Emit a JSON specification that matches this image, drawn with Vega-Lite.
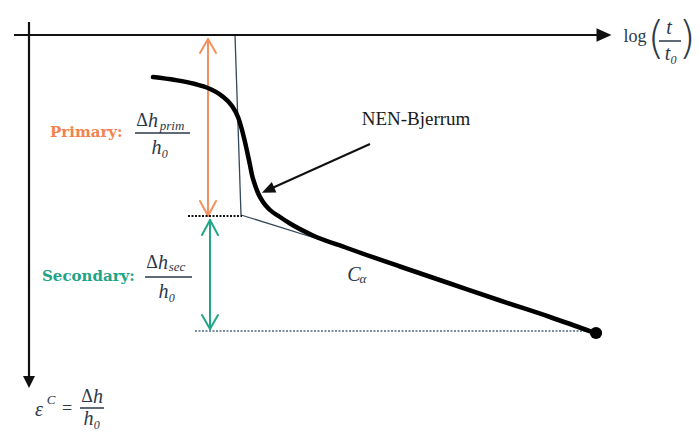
{
  "$schema": "https://vega.github.io/schema/vega-lite/v6.json",
  "width": 700,
  "height": 432,
  "padding": 0,
  "autosize": {"type": "none"},
  "background": "white",
  "config": {"view": {"stroke": null}},
  "datasets": {
    "axes": [
      {"x": 14, "y": 35, "x2": 600, "y2": 35},
      {"x": 29, "y": 22, "x2": 29, "y2": 378}
    ],
    "thin": [
      {"x": 235, "y": 35, "x2": 241, "y2": 215},
      {"x": 241, "y": 215, "x2": 318, "y2": 239}
    ],
    "orange": [
      {"x": 208, "y": 39, "x2": 208, "y2": 216},
      {"x": 208, "y": 39, "x2": 200, "y2": 53},
      {"x": 208, "y": 39, "x2": 216, "y2": 53},
      {"x": 208, "y": 216, "x2": 200, "y2": 201},
      {"x": 208, "y": 216, "x2": 216, "y2": 201}
    ],
    "green": [
      {"x": 210, "y": 220, "x2": 210, "y2": 329},
      {"x": 210, "y": 220, "x2": 202, "y2": 235},
      {"x": 210, "y": 220, "x2": 218, "y2": 235},
      {"x": 210, "y": 329, "x2": 202, "y2": 315},
      {"x": 210, "y": 329, "x2": 218, "y2": 315}
    ],
    "fracs": [
      {"x": 135, "y": 133, "x2": 190, "y2": 133},
      {"x": 145, "y": 277, "x2": 192, "y2": 277},
      {"x": 80, "y": 408, "x2": 104, "y2": 408},
      {"x": 659, "y": 41, "x2": 681, "y2": 41}
    ],
    "dotblack": [{"x": 188, "y": 216, "x2": 242, "y2": 216}],
    "dotblue": [{"x": 195, "y": 331, "x2": 590, "y2": 331}],
    "pointer": [{"x": 370, "y": 144, "x2": 270, "y2": 189}],
    "curve": [
      {"x": 153, "y": 77}, {"x": 175, "y": 80}, {"x": 195, "y": 84},
      {"x": 208, "y": 88}, {"x": 222, "y": 96}, {"x": 232, "y": 106},
      {"x": 238, "y": 117}, {"x": 242, "y": 130}, {"x": 245, "y": 142},
      {"x": 247, "y": 151}, {"x": 250, "y": 165}, {"x": 252, "y": 175},
      {"x": 255, "y": 185}, {"x": 258, "y": 193}, {"x": 263, "y": 202},
      {"x": 270, "y": 210}, {"x": 280, "y": 217}, {"x": 290, "y": 223.5},
      {"x": 313, "y": 235.5}, {"x": 347, "y": 248}, {"x": 400, "y": 266.5},
      {"x": 450, "y": 283.5}, {"x": 500, "y": 300.5}, {"x": 550, "y": 317},
      {"x": 595, "y": 333}
    ],
    "endpoint": [{"x": 596, "y": 333}],
    "headRight": [{"x": 604, "y": 35}],
    "headDown": [{"x": 29, "y": 382}],
    "headPointer": [{"x": 268, "y": 190}],
    "labelNEN": [{"x": 416, "y": 119, "label": "NEN-Bjerrum"}],
    "labelPrimary": [{"x": 50, "y": 132, "label": "Primary:"}],
    "labelSecondary": [{"x": 42, "y": 276, "label": "Secondary:"}],
    "mathItalic": [
      {"x": 153, "y": 121, "label": "h"},
      {"x": 163, "y": 263, "label": "h"},
      {"x": 98, "y": 397, "label": "h"},
      {"x": 160, "y": 148, "label": "h₀"},
      {"x": 167, "y": 292, "label": "h₀"},
      {"x": 92, "y": 419, "label": "h₀"},
      {"x": 39, "y": 410, "label": "ε"},
      {"x": 354, "y": 275, "label": "C"},
      {"x": 669, "y": 28, "label": "t"},
      {"x": 671, "y": 54, "label": "t₀"}
    ],
    "mathUpright": [
      {"x": 142, "y": 121, "label": "Δ"},
      {"x": 152, "y": 263, "label": "Δ"},
      {"x": 87, "y": 397, "label": "Δ"},
      {"x": 67, "y": 409, "label": "="},
      {"x": 635, "y": 37, "label": "log"}
    ],
    "mathSmall": [
      {"x": 172, "y": 126, "label": "prim"},
      {"x": 177, "y": 267, "label": "sec"},
      {"x": 51, "y": 400, "label": "C"},
      {"x": 363, "y": 279, "label": "α"}
    ],
    "parens": [
      {"x": 656, "y": 40, "label": "("},
      {"x": 687, "y": 40, "label": ")"}
    ]
  },
  "encoding": {
    "x": {"field": "x", "type": "quantitative", "scale": {"domain": [0, 700], "nice": false, "zero": false}, "axis": null},
    "y": {"field": "y", "type": "quantitative", "scale": {"domain": [0, 432], "reverse": true, "nice": false, "zero": false}, "axis": null}
  },
  "layer": [
    {"data": {"name": "thin"}, "mark": {"type": "rule", "stroke": "#34495a", "strokeWidth": 1.3},
     "encoding": {"x2": {"field": "x2"}, "y2": {"field": "y2"}}},
    {"data": {"name": "orange"}, "mark": {"type": "rule", "stroke": "#f5915f", "strokeWidth": 2, "strokeCap": "round"},
     "encoding": {"x2": {"field": "x2"}, "y2": {"field": "y2"}}},
    {"data": {"name": "green"}, "mark": {"type": "rule", "stroke": "#23a688", "strokeWidth": 2, "strokeCap": "round"},
     "encoding": {"x2": {"field": "x2"}, "y2": {"field": "y2"}}},
    {"data": {"name": "dotblack"}, "mark": {"type": "rule", "stroke": "#111111", "strokeWidth": 2.2, "strokeDash": [2, 1.5]},
     "encoding": {"x2": {"field": "x2"}, "y2": {"field": "y2"}}},
    {"data": {"name": "dotblue"}, "mark": {"type": "rule", "stroke": "#4f6a80", "strokeWidth": 1.6, "strokeDash": [2, 1.5]},
     "encoding": {"x2": {"field": "x2"}, "y2": {"field": "y2"}}},
    {"data": {"name": "fracs"}, "mark": {"type": "rule", "stroke": "#2a3848", "strokeWidth": 1.5},
     "encoding": {"x2": {"field": "x2"}, "y2": {"field": "y2"}}},
    {"data": {"name": "axes"}, "mark": {"type": "rule", "stroke": "#111111", "strokeWidth": 2.2},
     "encoding": {"x2": {"field": "x2"}, "y2": {"field": "y2"}}},
    {"data": {"name": "pointer"}, "mark": {"type": "rule", "stroke": "#111111", "strokeWidth": 2},
     "encoding": {"x2": {"field": "x2"}, "y2": {"field": "y2"}}},
    {"data": {"name": "curve"}, "mark": {"type": "line", "stroke": "#000000", "strokeWidth": 4.5, "interpolate": "monotone", "strokeCap": "round"},
     "encoding": {"order": {"field": "x", "type": "quantitative"}}},
    {"data": {"name": "endpoint"}, "mark": {"type": "point", "shape": "circle", "filled": true, "color": "#000000", "size": 150, "opacity": 1}},
    {"data": {"name": "headRight"}, "mark": {"type": "point", "shape": "M-1,-0.9L1,0L-1,0.9Z", "filled": true, "color": "#111111", "size": 225, "opacity": 1}},
    {"data": {"name": "headDown"}, "mark": {"type": "point", "shape": "M-1,-1L1,-1L0,1Z", "filled": true, "color": "#111111", "size": 144, "opacity": 1}},
    {"data": {"name": "headPointer"}, "mark": {"type": "point", "shape": "M0,-1L0.85,1L-0.85,1Z", "angle": 246, "filled": true, "color": "#111111", "size": 180, "opacity": 1}},
    {"data": {"name": "labelNEN"}, "mark": {"type": "text", "font": "Liberation Serif", "fontSize": 19, "color": "#1a1a1a", "align": "center", "baseline": "middle"},
     "encoding": {"text": {"field": "label"}}},
    {"data": {"name": "labelPrimary"}, "mark": {"type": "text", "font": "DejaVu Serif", "fontWeight": "bold", "fontSize": 15, "color": "#f3824f", "align": "left", "baseline": "middle"},
     "encoding": {"text": {"field": "label"}}},
    {"data": {"name": "labelSecondary"}, "mark": {"type": "text", "font": "DejaVu Serif", "fontWeight": "bold", "fontSize": 15, "color": "#22a386", "align": "left", "baseline": "middle"},
     "encoding": {"text": {"field": "label"}}},
    {"data": {"name": "mathItalic"}, "mark": {"type": "text", "font": "Liberation Serif", "fontStyle": "italic", "fontSize": 20, "color": "#2a3848", "align": "center", "baseline": "middle"},
     "encoding": {"text": {"field": "label"}}},
    {"data": {"name": "mathUpright"}, "mark": {"type": "text", "font": "Liberation Serif", "fontSize": 18, "color": "#2a3848", "align": "center", "baseline": "middle"},
     "encoding": {"text": {"field": "label"}}},
    {"data": {"name": "mathSmall"}, "mark": {"type": "text", "font": "Liberation Serif", "fontStyle": "italic", "fontSize": 13, "color": "#2a3848", "align": "center", "baseline": "middle"},
     "encoding": {"text": {"field": "label"}}},
    {"data": {"name": "parens"}, "mark": {"type": "text", "font": "DejaVu Sans", "fontWeight": 200, "fontSize": 44, "color": "#2a3848", "align": "center", "baseline": "middle"},
     "encoding": {"text": {"field": "label"}}}
  ]
}
